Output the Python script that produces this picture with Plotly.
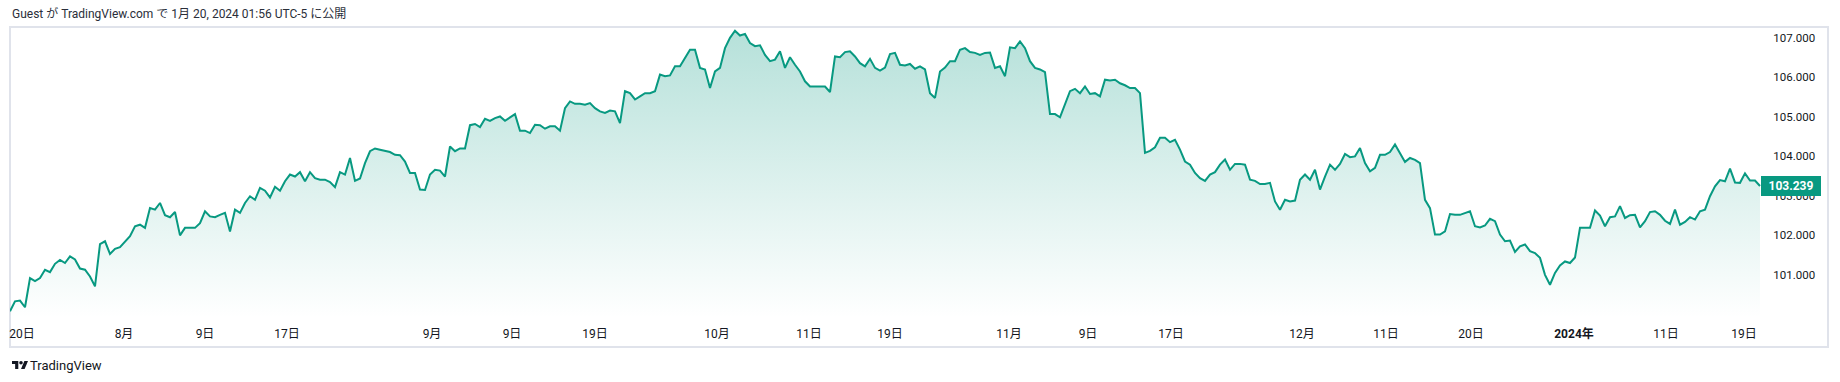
import plotly.graph_objects as go

# ---- data ----
dxy_close = [
    100.07, 100.32, 100.34, 100.17, 100.91, 100.83, 100.91, 101.12, 101.06, 101.27,
    101.37, 101.29, 101.46, 101.38, 101.15, 101.12, 100.95, 100.70, 101.77, 101.84,
    101.52, 101.65, 101.69, 101.84, 101.97, 102.22, 102.26, 102.18, 102.68, 102.64,
    102.81, 102.50, 102.45, 102.58, 101.99, 102.18, 102.18, 102.18, 102.30, 102.60,
    102.47, 102.45, 102.51, 102.56, 102.09, 102.64, 102.56, 102.81, 102.98, 102.89,
    103.19, 103.12, 102.95, 103.22, 103.12, 103.36, 103.53, 103.48, 103.59, 103.36,
    103.59, 103.44, 103.40, 103.40, 103.34, 103.21, 103.59, 103.53, 103.95, 103.37,
    103.43, 103.82, 104.12, 104.19, 104.16, 104.13, 104.10, 104.03, 104.02, 103.86,
    103.57, 103.57, 103.15, 103.14, 103.53, 103.65, 103.63, 103.48, 104.24, 104.12,
    104.19, 104.19, 104.78, 104.81, 104.73, 104.94, 104.89, 104.96, 105.00, 104.89,
    104.98, 105.06, 104.64, 104.64, 104.58, 104.79, 104.78, 104.69, 104.75, 104.75,
    104.64, 105.21, 105.38, 105.32, 105.32, 105.30, 105.34, 105.21, 105.13, 105.09,
    105.15, 105.13, 104.83, 105.64, 105.59, 105.43, 105.51, 105.59, 105.59, 105.64,
    106.06, 106.02, 106.04, 106.27, 106.27, 106.48, 106.69, 106.69, 106.23, 106.19,
    105.72, 106.14, 106.23, 106.73, 106.99, 107.17, 107.05, 107.09, 106.86, 106.78,
    106.80, 106.56, 106.40, 106.44, 106.65, 106.23, 106.50, 106.31, 106.14, 105.89,
    105.76, 105.76, 105.76, 105.76, 105.62, 106.52, 106.50, 106.63, 106.65, 106.52,
    106.35, 106.27, 106.46, 106.23, 106.16, 106.24, 106.58, 106.61, 106.31, 106.29,
    106.33, 106.21, 106.27, 106.19, 105.59, 105.47, 106.14, 106.24, 106.40, 106.40,
    106.69, 106.73, 106.63, 106.61, 106.56, 106.61, 106.62, 106.23, 106.27, 106.02,
    106.75, 106.73, 106.90, 106.73, 106.40, 106.23, 106.19, 106.12, 105.06, 105.06,
    104.98, 105.30, 105.64, 105.70, 105.59, 105.76, 105.57, 105.59, 105.51, 105.93,
    105.91, 105.93, 105.84, 105.79, 105.72, 105.72, 105.59, 104.08, 104.13, 104.22,
    104.46, 104.46, 104.35, 104.41, 104.16, 103.86, 103.78, 103.57, 103.44, 103.37,
    103.53, 103.59, 103.78, 103.91, 103.65, 103.80, 103.80, 103.78, 103.40, 103.37,
    103.29, 103.29, 103.32, 102.85, 102.64, 102.89, 102.85, 102.87, 103.40, 103.53,
    103.40, 103.65, 103.15, 103.48, 103.78, 103.65, 103.80, 104.05, 103.97, 103.99,
    104.20, 103.82, 103.61, 103.70, 104.03, 104.03, 104.10, 104.29, 104.05, 103.85,
    103.95, 103.90, 103.82, 102.89, 102.68, 102.01, 102.01, 102.09, 102.53, 102.51,
    102.51, 102.56, 102.60, 102.22, 102.19, 102.24, 102.41, 102.35, 102.01, 101.84,
    101.86, 101.57, 101.71, 101.76, 101.59, 101.54, 101.42, 100.99, 100.74, 101.04,
    101.23, 101.33, 101.29, 101.43, 102.18, 102.18, 102.18, 102.62, 102.49, 102.22,
    102.45, 102.47, 102.73, 102.43, 102.50, 102.51, 102.19, 102.35, 102.58, 102.60,
    102.51, 102.36, 102.28, 102.64, 102.26, 102.33, 102.45, 102.39, 102.60, 102.64,
    102.98, 103.23, 103.39, 103.36, 103.68, 103.33, 103.32, 103.56, 103.38, 103.38,
    103.239,
]
bar_index = list(range(len(dxy_close)))

# time-axis labels (bar position, label)
time_tick_pos = [2.4, 22.8, 39.0, 55.4, 84.4, 100.4, 117.0, 141.4, 159.8, 176.0,
                 199.8, 215.6, 232.2, 258.4, 275.2, 292.2, 312.8, 331.2, 346.8]
time_tick_text = ["20日", "8月", "9日", "17日", "9月", "9日", "19日", "10月", "11日", "19日",
                  "11月", "9日", "17日", "12月", "11日", "20日", "<b>2024年</b>", "11日", "19日"]

price_ticks = [101, 102, 103, 104, 105, 106, 107]
price_tick_text = ["101.000", "102.000", "103.000", "104.000", "105.000", "106.000", "107.000"]

title_text = "Guest が TradingView.com で 1月 20, 2024 01:56 UTC-5 に公開"
brand_text = "TradingView"

# ---- styling ----
GREEN = "#089981"
TEXT = "#131722"
FONT = "Roboto, 'Noto Sans CJK JP', sans-serif"
W, H = 1840, 382
ML, MR, MT, MB = 10, 74, 28, 64
Y_MIN, Y_MAX = 99.898, 107.24
X_MAX = 351.2
PW, PH = W - ML - MR, H - MT - MB


def px_to_paper_x(px):
    return (px - ML) / PW


def px_to_paper_y(py):
    return (H - MB - py) / PH


fig = go.Figure()
fig.add_trace(go.Scatter(
    x=bar_index, y=dxy_close, mode="lines",
    line=dict(color=GREEN, width=2),
    fill="tozeroy",
    fillgradient=dict(type="vertical", start=Y_MIN, stop=Y_MAX,
                      colorscale=[[0, "rgba(8,153,129,0.0)"], [1, "rgba(8,153,129,0.30)"]]),
    hoverinfo="skip",
))

fig.update_layout(
    width=W, height=H,
    margin=dict(l=ML, r=MR, t=MT, b=MB),
    paper_bgcolor="white", plot_bgcolor="white",
    showlegend=False,
    font=dict(family=FONT, size=12, color=TEXT),
    xaxis=dict(range=[0, X_MAX], showgrid=False, zeroline=False, showline=False,
               tickmode="array", tickvals=time_tick_pos, ticktext=time_tick_text,
               ticks="outside", ticklen=5, tickcolor="rgba(0,0,0,0)",
               tickfont=dict(family=FONT, size=12, color=TEXT)),
    yaxis=dict(range=[Y_MIN, Y_MAX], side="right", showgrid=False, zeroline=False,
               showline=False, tickmode="array", tickvals=price_ticks, ticktext=price_tick_text,
               ticks="outside", ticklen=4, tickcolor="rgba(0,0,0,0)",
               tickfont=dict(family=FONT, size=11.5, color=TEXT)),
)

# outer frame
fig.add_shape(type="rect", xref="paper", yref="paper",
              x0=px_to_paper_x(10), x1=px_to_paper_x(1828),
              y0=px_to_paper_y(347), y1=px_to_paper_y(27),
              line=dict(color="#e0e3eb", width=2), fillcolor="rgba(0,0,0,0)", layer="below")

# last price label
fig.add_annotation(x=bar_index[-1], y=dxy_close[-1], xref="x", yref="y",
                   text="<b>%.3f</b>" % dxy_close[-1], showarrow=False,
                   xanchor="left", yanchor="middle", xshift=1,
                   bgcolor=GREEN, bordercolor=GREEN, borderpad=2, width=54,
                   font=dict(family=FONT, size=12, color="white"))

# header text
fig.add_annotation(x=0, y=px_to_paper_y(13), xref="paper", yref="paper",
                   text=title_text, showarrow=False, xanchor="left", yanchor="middle",
                   font=dict(family=FONT, size=12, color="#2a2e39"))

# footer brand: logo + text
lx, ly = px_to_paper_x(12), px_to_paper_y(369)
fig.add_shape(type="path", xref="paper", yref="paper", xsizemode="pixel", ysizemode="pixel",
              xanchor=lx, yanchor=ly,
              path="M0,8.1 L6.3,8.1 L6.3,0 L3.15,0 L3.15,4.95 L0,4.95 Z",
              fillcolor=TEXT, line=dict(width=0))
fig.add_shape(type="circle", xref="paper", yref="paper", xsizemode="pixel", ysizemode="pixel",
              xanchor=lx, yanchor=ly, x0=7.2, x1=10.8, y0=4.5, y1=8.1,
              fillcolor=TEXT, line=dict(width=0))
fig.add_shape(type="path", xref="paper", yref="paper", xsizemode="pixel", ysizemode="pixel",
              xanchor=lx, yanchor=ly,
              path="M9,0 L12.6,0 L16,8.1 L12.4,8.1 Z",
              fillcolor=TEXT, line=dict(width=0))
fig.add_annotation(x=px_to_paper_x(28), y=px_to_paper_y(365), xref="paper", yref="paper",
                   text=brand_text, showarrow=False, xanchor="left", yanchor="middle",
                   font=dict(family=FONT, size=13, color=TEXT))

fig.write_html("out.html", config={"displayModeBar": False},
               post_script="document.body.style.margin='0';document.body.style.overflow='hidden';")
